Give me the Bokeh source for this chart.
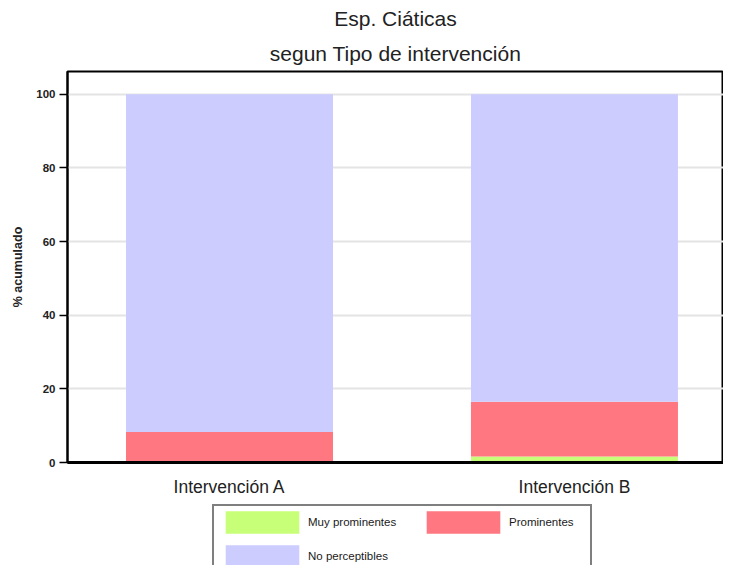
from bokeh.plotting import figure
from bokeh.layouts import column
from bokeh.models import Range1d, FixedTicker, Title, Legend, LegendItem, ColumnDataSource
from bokeh.embed import file_html
from bokeh.resources import INLINE

categories = ["Intervención A", "Intervención B"]
series = ["Muy prominentes", "Prominentes", "No perceptibles"]
muy_prominentes = [0.0, 1.6]
prominentes = [8.3, 14.9]
no_perceptibles = [91.7, 83.5]
y_ticks = [0, 20, 40, 60, 80, 100]
colors = ["#c8ff78", "#ff7780", "#ccccff"]

xs = [i + 0.5 for i in range(len(categories))]
stackers = ["muy", "prom", "noperc"]
src = ColumnDataSource(dict(x=xs, muy=muy_prominentes, prom=prominentes, noperc=no_perceptibles))

FONT = "'Liberation Sans', Arial, sans-serif"

p = figure(width=723, height=499, output_backend="svg", toolbar_location=None,
           x_range=Range1d(0.0304, 1.932), y_range=Range1d(0, 106.2),
           min_border_left=67, min_border_right=0, min_border_top=0, min_border_bottom=36)

p.add_layout(Title(text="segun Tipo de intervención", align="center", text_font=FONT,
                   text_font_size="21px", text_font_style="normal", text_color="#222222",
                   standoff=13), "above")
p.add_layout(Title(text="Esp. Ciáticas", align="center", text_font=FONT,
                   text_font_size="21px", text_font_style="normal", text_color="#222222",
                   standoff=8), "above")

p.vbar_stack(stackers, x="x", width=0.6, fill_color=colors, line_color=None, source=src)

p.outline_line_color = "black"
p.outline_line_width = 2
p.xgrid.visible = False
p.ygrid.grid_line_color = "#e4e4e4"
p.ygrid.grid_line_width = 2

p.yaxis.ticker = FixedTicker(ticks=y_ticks)
p.yaxis.minor_tick_line_color = None
p.yaxis.major_tick_out = 8
p.yaxis.major_tick_in = 0
p.yaxis.major_tick_line_width = 1.5
p.yaxis.axis_line_width = 2
p.yaxis.major_label_text_font = FONT
p.yaxis.major_label_text_font_size = "11.5px"
p.yaxis.major_label_text_font_style = "bold"
p.yaxis.major_label_text_color = "#222222"
p.yaxis.major_label_standoff = 4
p.yaxis.axis_label = "% acumulado"
p.yaxis.axis_label_text_font = FONT
p.yaxis.axis_label_text_font_size = "12.5px"
p.yaxis.axis_label_text_font_style = "bold"
p.yaxis.axis_label_text_color = "#222222"
p.yaxis.axis_label_standoff = 8

p.xaxis.ticker = FixedTicker(ticks=xs)
p.xaxis.major_label_overrides = {x: c for x, c in zip(xs, categories)}
p.xaxis.minor_tick_line_color = None
p.xaxis.major_tick_line_color = None
p.xaxis.major_tick_out = 0
p.xaxis.major_tick_in = 0
p.xaxis.axis_line_width = 3
p.xaxis.major_label_text_font = FONT
p.xaxis.major_label_text_font_size = "17.5px"
p.xaxis.major_label_text_color = "#222222"
p.xaxis.major_label_standoff = 14

# legend strip below the chart (same data, drawn out of view; only its legend shows)
lg = figure(width=723, height=66, output_backend="svg", toolbar_location=None,
            x_axis_type=None, y_axis_type=None,
            x_range=Range1d(0, 1), y_range=Range1d(1000, 1001),
            min_border=0, min_border_left=0, min_border_right=0,
            min_border_top=0, min_border_bottom=0)
lg.outline_line_color = None
lg.grid.visible = False
lr = lg.vbar_stack(stackers, x="x", width=0.6, fill_color=colors, line_color=None, source=src)

common = dict(orientation="vertical", glyph_width=92, glyph_height=28, label_standoff=0,
              spacing=6, padding=2, margin=0, label_text_font=FONT,
              label_text_font_size="11.5px", label_text_color="#1a1a1a")
leg1 = Legend(items=[LegendItem(label=series[0], renderers=[lr[0]]),
                     LegendItem(label=series[2], renderers=[lr[2]])],
              location=(145, -9), label_width=280,
              border_line_color="black", border_line_width=2, **common)
leg2 = Legend(items=[LegendItem(label=series[1], renderers=[lr[1]])],
              location=(350, 29), border_line_color=None, background_fill_alpha=0, **common)
lg.add_layout(leg1, "center")
lg.add_layout(leg2, "center")

layout = column(p, lg, spacing=0)
open("out.html", "w").write(file_html(layout, INLINE))
